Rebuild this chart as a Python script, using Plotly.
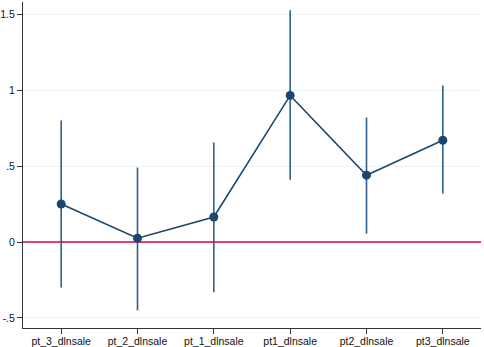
import plotly.graph_objects as go

categories = ["pt_3_dlnsale", "pt_2_dlnsale", "pt_1_dlnsale", "pt1_dlnsale", "pt2_dlnsale", "pt3_dlnsale"]
coef = [0.25, 0.025, 0.165, 0.965, 0.44, 0.67]
ci_low = [-0.30, -0.45, -0.33, 0.41, 0.055, 0.32]
ci_high = [0.80, 0.49, 0.655, 1.525, 0.82, 1.03]
y_tickvals = [-0.5, 0, 0.5, 1, 1.5]
y_ticktext = ["-.5", "0", ".5", "1", "1.5"]

xpos = list(range(1, len(categories) + 1))
navy = "#1a476f"

fig = go.Figure()
for x, lo, hi in zip(xpos, ci_low, ci_high):
    fig.add_trace(go.Scatter(x=[x, x], y=[lo, hi], mode="lines",
                             line=dict(color="#2f5f8a", width=1.6),
                             showlegend=False, hoverinfo="skip"))
fig.add_trace(go.Scatter(x=xpos, y=coef, mode="lines+markers",
                         line=dict(color=navy, width=1.6),
                         marker=dict(color=navy, size=9),
                         showlegend=False))

fig.update_layout(
    width=484, height=347,
    margin=dict(l=23, r=3, t=2, b=19),
    paper_bgcolor="white", plot_bgcolor="white",
    font=dict(family="Liberation Sans, Arial, sans-serif", size=10.5, color="#111"),
)
fig.update_xaxes(range=[0.5, 6.5], tickvals=xpos, ticktext=categories,
                 showgrid=False, zeroline=False, showline=True,
                 linecolor="#333", linewidth=1, ticks="outside", ticklen=5,
                 tickcolor="#333", mirror=False, automargin=False,
                 ticklabelstandoff=-2)
fig.update_yaxes(range=[-0.566, 1.58], tickvals=y_tickvals, ticktext=y_ticktext,
                 showgrid=True, gridcolor="#eaf2f3", gridwidth=1,
                 zeroline=True, zerolinecolor="#e6406a", zerolinewidth=1.6,
                 showline=True, linecolor="#333", linewidth=1, ticks="outside",
                 ticklen=5, tickcolor="#333", tickangle=0, automargin=False)

fig.write_html("out.html", config={"displayModeBar": False},
               post_script="document.body.style.margin='0';document.body.style.padding='0';")
